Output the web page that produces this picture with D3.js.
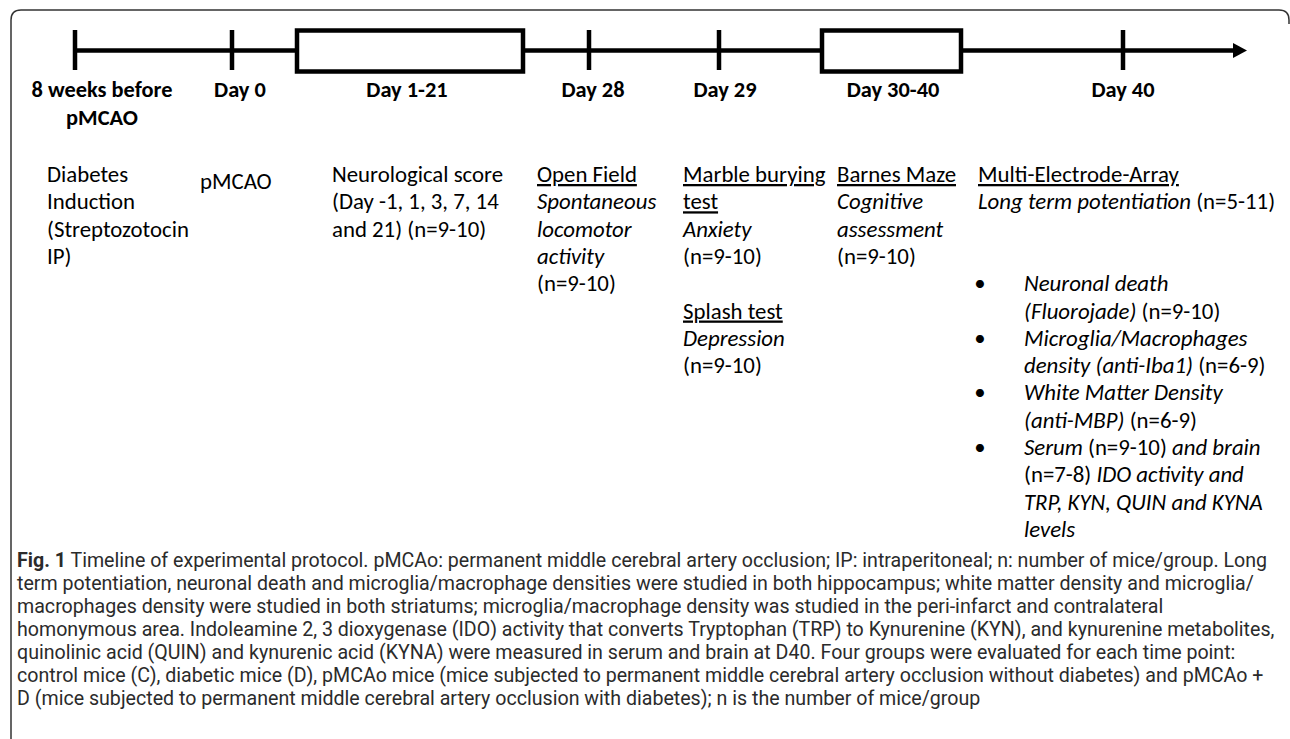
<!DOCTYPE html>
<html>
<head>
<meta charset="utf-8">
<script src="https://cdn.jsdelivr.net/npm/d3@7"></script>
<style>
  html, body { margin: 0; padding: 0; background: #fff; }
  svg { display: block; }
  text { white-space: pre; }
</style>
</head>
<body>
<svg id="chart" width="1290" height="739"></svg>
<script>
// 時間軸のイベント
const eventKeys = ["pre", "d0", "d1_21", "d28", "d29", "d30_40", "d40"];
const eventLabels = [
    ["8 weeks before", "pMCAO"], ["Day 0"], ["Day 1-21"], ["Day 28"],
    ["Day 29"], ["Day 30-40"], ["Day 40"]
];
const eventKinds = ["tick", "tick", "span", "tick", "tick", "span", "tick"];

// 各列の説明文 (_下線_, *斜体*, **太字**)
const columnLines = [
    ["Diabetes", "Induction", "(Streptozotocin", "IP)"],
    ["pMCAO"],
    ["Neurological score", "(Day -1, 1, 3, 7, 14", "and 21) (n=9-10)"],
    ["_Open Field_", "*Spontaneous*", "*locomotor*", "*activity*", "(n=9-10)"],
    ["_Marble burying_", "_test_", "*Anxiety*", "(n=9-10)", "", "_Splash test_", "*Depression*", "(n=9-10)"],
    ["_Barnes Maze_", "*Cognitive*", "*assessment*", "(n=9-10)"],
    ["_Multi-Electrode-Array_", "*Long term potentiation* (n=5-11)"]
];
const bulletItems = [
    ["*Neuronal death*", "*(Fluorojade)* (n=9-10)"],
    ["*Microglia/Macrophages*", "*density (anti-Iba1)* (n=6-9)"],
    ["*White Matter Density*", "*(anti-MBP)* (n=6-9)"],
    ["*Serum* (n=9-10) *and brain*", "(n=7-8) *IDO activity and*", "*TRP, KYN, QUIN and KYNA*", "*levels*"]
];
const captionLines = [
    "**Fig. 1** Timeline of experimental protocol. pMCAo: permanent middle cerebral artery occlusion; IP: intraperitoneal; n: number of mice/group. Long",
    "term potentiation, neuronal death and microglia/macrophage densities were studied in both hippocampus; white matter density and microglia/",
    "macrophages density were studied in both striatums; microglia/macrophage density was studied in the peri-infarct and contralateral",
    "homonymous area. Indoleamine 2, 3 dioxygenase (IDO) activity that converts Tryptophan (TRP) to Kynurenine (KYN), and kynurenine metabolites,",
    "quinolinic acid (QUIN) and kynurenic acid (KYNA) were measured in serum and brain at D40. Four groups were evaluated for each time point:",
    "control mice (C), diabetic mice (D), pMCAo mice (mice subjected to permanent middle cerebral artery occlusion without diabetes) and pMCAo +",
    "D (mice subjected to permanent middle cerebral artery occlusion with diabetes); n is the number of mice/group"
];

// レイアウト
const LAYOUT = {
    lineY: 50.5, tickTop: 30, tickBottom: 70, boxTop: 30.5, boxBottom: 71.5, stroke: 4.5,
    markX: [75, 232, 410, 589, 719, 891.5, 1123],
    spanHalf: [0, 0, 113, 0, 0, 69.5, 0],
    lineStart: 75, arrowEnd: 1247, arrowLen: 14, arrowHalf: 7.5,
    labelX: [102, 240, 407, 593, 725, 893, 1123],
    labelY: 97, labelLineH: 28,
    colX: [47, 200, 332, 537, 683, 837, 978],
    colDy: [0, 7, 0, 0, 0, 0, 0],
    bodyY: 182, bodyLineH: 27.3,
    bulletX: 980, bulletTextX: 1024, bulletStartLine: 4,
    captionX: 17, captionY: 567, captionLineH: 23, captionWidth: 1251
};
const BODY_FONT = "Carlito, Calibri, Lato, sans-serif";
const CAPTION_FONT = "Roboto, 'Noto Sans', sans-serif";

const svg = d3.select("#chart");

/**
 * マークアップを分割
 */
function parseSegments(str) {
    return str.split(/(\*\*[^*]+\*\*|_[^_]+_|\*[^*]+\*)/).filter(s => s.length).map(s => {
        if (s.startsWith("**")) return { t: s.slice(2, -2), b: true };
        if (s.startsWith("_")) return { t: s.slice(1, -1), u: true };
        if (s.startsWith("*")) return { t: s.slice(1, -1), i: true };
        return { t: s };
    });
}

function richText(parent, str, x, y, font, size, color) {
    const t = parent.append("text")
        .attr("x", x).attr("y", y)
        .attr("font-family", font).attr("font-size", size)
        .attr("fill", color);
    parseSegments(str).forEach(seg => {
        t.append("tspan")
            .attr("font-style", seg.i ? "italic" : null)
            .attr("font-weight", seg.b ? "bold" : null)
            .attr("text-decoration", seg.u ? "underline" : null)
            .text(seg.t);
    });
    return t;
}

/**
 * 指定幅に合うフォントサイズを計算
 */
function fitSize(str, font, target, weight) {
    const t = richText(svg, str, 0, -100, font, 100, "#000").attr("font-weight", weight || null);
    const w = t.node().getComputedTextLength();
    t.remove();
    return 100 * target / w;
}

const bodySize = fitSize("(Streptozotocin", BODY_FONT, 142);
const labelSize = fitSize("8 weeks before", BODY_FONT, 141, "bold");
const captionSize = fitSize(captionLines[0], CAPTION_FONT, LAYOUT.captionWidth);

// 枠
svg.append("path")
    .attr("d", "M11,739 V20 Q11,10 21,10 H1279 Q1289,10 1289,20 V24")
    .attr("fill", "none").attr("stroke", "#333").attr("stroke-width", 1.5);

// スケール
const xMark = d3.scaleOrdinal(eventKeys, LAYOUT.markX);
const xLabel = d3.scaleOrdinal(eventKeys, LAYOUT.labelX);
const xCol = d3.scaleOrdinal(eventKeys, LAYOUT.colX);
const halfSpan = d3.scaleOrdinal(eventKeys, LAYOUT.spanHalf);
const yBody = d3.scaleLinear().domain([0, 1]).range([LAYOUT.bodyY, LAYOUT.bodyY + LAYOUT.bodyLineH]);

// 時間軸
const g = svg.append("g");
g.append("line")
    .attr("x1", LAYOUT.lineStart).attr("x2", LAYOUT.arrowEnd - LAYOUT.arrowLen + 1)
    .attr("y1", LAYOUT.lineY).attr("y2", LAYOUT.lineY)
    .attr("stroke", "#000").attr("stroke-width", LAYOUT.stroke);
g.append("path")
    .attr("d", `M${LAYOUT.arrowEnd - LAYOUT.arrowLen},${LAYOUT.lineY - LAYOUT.arrowHalf} L${LAYOUT.arrowEnd},${LAYOUT.lineY} L${LAYOUT.arrowEnd - LAYOUT.arrowLen},${LAYOUT.lineY + LAYOUT.arrowHalf} Z`)
    .attr("fill", "#000");

const marks = eventKeys.map((k, i) => ({ key: k, kind: eventKinds[i] }));
g.selectAll("line.tick").data(marks.filter(d => d.kind === "tick")).join("line")
    .attr("class", "tick")
    .attr("x1", d => xMark(d.key)).attr("x2", d => xMark(d.key))
    .attr("y1", LAYOUT.tickTop).attr("y2", LAYOUT.tickBottom)
    .attr("stroke", "#000").attr("stroke-width", LAYOUT.stroke);
g.selectAll("rect.span").data(marks.filter(d => d.kind === "span")).join("rect")
    .attr("class", "span")
    .attr("x", d => xMark(d.key) - halfSpan(d.key))
    .attr("width", d => 2 * halfSpan(d.key))
    .attr("y", LAYOUT.boxTop).attr("height", LAYOUT.boxBottom - LAYOUT.boxTop)
    .attr("fill", "#fff").attr("stroke", "#000").attr("stroke-width", LAYOUT.stroke);

// 日付ラベル
eventKeys.forEach((k, i) => {
    eventLabels[i].forEach((lab, j) => {
        svg.append("text")
            .attr("x", xLabel(k)).attr("y", LAYOUT.labelY + j * LAYOUT.labelLineH)
            .attr("text-anchor", "middle")
            .attr("font-family", BODY_FONT).attr("font-weight", "bold")
            .attr("font-size", labelSize).attr("fill", "#000")
            .text(lab);
    });
});

// 説明文
eventKeys.forEach((k, i) => {
    columnLines[i].forEach((line, j) => {
        if (!line) return;
        richText(svg, line, xCol(k), yBody(j) + LAYOUT.colDy[i], BODY_FONT, bodySize, "#000");
    });
});

// 箇条書き
let row = LAYOUT.bulletStartLine;
bulletItems.forEach(item => {
    svg.append("text")
        .attr("x", LAYOUT.bulletX).attr("y", yBody(row))
        .attr("text-anchor", "middle")
        .attr("font-family", BODY_FONT).attr("font-size", bodySize)
        .text("\u2022");
    item.forEach(line => {
        richText(svg, line, LAYOUT.bulletTextX, yBody(row), BODY_FONT, bodySize, "#000");
        row += 1;
    });
});

// キャプション
captionLines.forEach((line, i) => {
    richText(svg, line, LAYOUT.captionX, LAYOUT.captionY + i * LAYOUT.captionLineH,
        CAPTION_FONT, captionSize, "#2b2b2b");
});
</script>
</body>
</html>
